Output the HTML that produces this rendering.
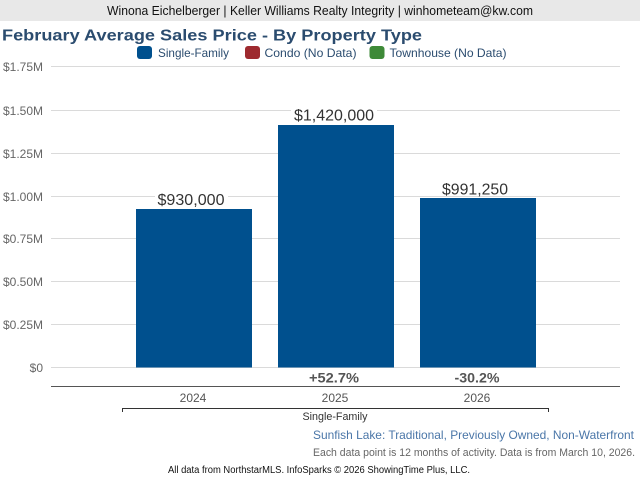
<!DOCTYPE html>
<html>
<head>
<meta charset="utf-8">
<style>
  html, body { margin: 0; padding: 0; background: #ffffff; }
  svg { display: block; font-family: "Liberation Sans", Arial, sans-serif; }
</style>
</head>
<body>
<svg width="640" height="480" viewBox="0 0 640 480" xmlns="http://www.w3.org/2000/svg">
  <rect x="0" y="0" width="640" height="480" fill="#ffffff"/>
  <!-- header bar -->
  <rect x="0" y="0" width="640" height="21" fill="#e8e8e8"/>
  <text x="320" y="15" font-size="13" fill="#111" text-anchor="middle" textLength="426" lengthAdjust="spacingAndGlyphs">Winona Eichelberger | Keller Williams Realty Integrity | winhometeam@kw.com</text>

  <!-- title -->
  <text x="2" y="40.5" font-size="16" font-weight="bold" fill="#2b4c6f" textLength="420" lengthAdjust="spacingAndGlyphs">February Average Sales Price - By Property Type</text>

  <!-- legend -->
  <rect x="137" y="46" width="15" height="13" rx="3" fill="#00508e"/>
  <text x="158" y="57" font-size="12" fill="#2b4c6f" textLength="71" lengthAdjust="spacingAndGlyphs">Single-Family</text>
  <rect x="245" y="46" width="15" height="13" rx="3" fill="#9e2a2f"/>
  <text x="264.5" y="57" font-size="12" fill="#2b4c6f" textLength="92" lengthAdjust="spacingAndGlyphs">Condo (No Data)</text>
  <rect x="369.5" y="46" width="15" height="13" rx="3" fill="#3e8a38"/>
  <text x="389.5" y="57" font-size="12" fill="#2b4c6f" textLength="117" lengthAdjust="spacingAndGlyphs">Townhouse (No Data)</text>

  <!-- gridlines -->
  <g stroke="#dadada" stroke-width="1">
    <line x1="51" y1="66.5" x2="620" y2="66.5"/>
    <line x1="51" y1="110.5" x2="620" y2="110.5"/>
    <line x1="51" y1="153.5" x2="620" y2="153.5"/>
    <line x1="51" y1="196.5" x2="620" y2="196.5"/>
    <line x1="51" y1="238.5" x2="620" y2="238.5"/>
    <line x1="51" y1="281.5" x2="620" y2="281.5"/>
    <line x1="51" y1="324.5" x2="620" y2="324.5"/>
    <line x1="51" y1="367.5" x2="620" y2="367.5"/>
  </g>

  <!-- y-axis labels -->
  <g font-size="12" fill="#666" text-anchor="end">
    <text x="43" y="71">$1.75M</text>
    <text x="43" y="115">$1.50M</text>
    <text x="43" y="158">$1.25M</text>
    <text x="43" y="201">$1.00M</text>
    <text x="43" y="243">$0.75M</text>
    <text x="43" y="286">$0.50M</text>
    <text x="43" y="329">$0.25M</text>
    <text x="43" y="372">$0</text>
  </g>

  <!-- bars -->
  <rect x="136" y="209" width="116" height="158.5" fill="#00508e"/>
  <rect x="278" y="125" width="116" height="242.5" fill="#00508e"/>
  <rect x="420" y="198" width="116" height="169.5" fill="#00508e"/>

  <!-- value labels with white backing -->
  <rect x="155" y="191" width="73" height="15" fill="#ffffff"/>
  <text x="191" y="205" font-size="16" fill="#333" text-anchor="middle" textLength="67" lengthAdjust="spacingAndGlyphs">$930,000</text>
  <rect x="291" y="107" width="86" height="15" fill="#ffffff"/>
  <text x="334" y="120.5" font-size="16" fill="#333" text-anchor="middle" textLength="80" lengthAdjust="spacingAndGlyphs">$1,420,000</text>
  <rect x="439" y="180" width="72" height="15" fill="#ffffff"/>
  <text x="475" y="194.5" font-size="16" fill="#333" text-anchor="middle" textLength="66" lengthAdjust="spacingAndGlyphs">$991,250</text>

  <!-- percent change -->
  <text x="334" y="382.5" font-size="14" font-weight="bold" fill="#555" text-anchor="middle" textLength="50" lengthAdjust="spacingAndGlyphs">+52.7%</text>
  <text x="477" y="382.5" font-size="14" font-weight="bold" fill="#555" text-anchor="middle" textLength="45" lengthAdjust="spacingAndGlyphs">-30.2%</text>

  <!-- x axis line -->
  <line x1="51" y1="386.5" x2="620" y2="386.5" stroke="#555" stroke-width="1"/>

  <!-- year labels -->
  <g font-size="12" fill="#555" text-anchor="middle">
    <text x="193" y="402">2024</text>
    <text x="335" y="402">2025</text>
    <text x="477" y="402">2026</text>
  </g>

  <!-- bracket -->
  <path d="M122.5 412 L122.5 408.5 L548.5 408.5 L548.5 412" fill="none" stroke="#333" stroke-width="1"/>
  <text x="335" y="420" font-size="11" fill="#333" text-anchor="middle" textLength="65" lengthAdjust="spacingAndGlyphs">Single-Family</text>

  <!-- footer -->
  <text x="634" y="439" font-size="12" fill="#4a76a8" text-anchor="end" textLength="321" lengthAdjust="spacingAndGlyphs">Sunfish Lake: Traditional, Previously Owned, Non-Waterfront</text>
  <text x="635" y="456" font-size="11" fill="#666" text-anchor="end" textLength="322" lengthAdjust="spacingAndGlyphs">Each data point is 12 months of activity. Data is from March 10, 2026.</text>
  <text x="168" y="473" font-size="10" fill="#111" textLength="302" lengthAdjust="spacingAndGlyphs">All data from NorthstarMLS. InfoSparks © 2026 ShowingTime Plus, LLC.</text>
</svg>
</body>
</html>
